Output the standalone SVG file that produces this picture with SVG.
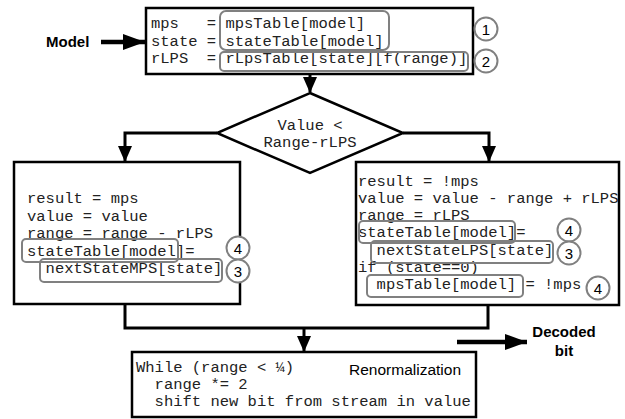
<svg xmlns="http://www.w3.org/2000/svg" width="625" height="419" viewBox="0 0 625 419">
<defs>
<marker id="ah" markerUnits="userSpaceOnUse" markerWidth="16" markerHeight="14" refX="15" refY="7" orient="auto">
<path d="M0,0 L16,7 L0,14 Z" fill="#000"/>
</marker>
<marker id="ahb" markerUnits="userSpaceOnUse" markerWidth="22" markerHeight="16" refX="22" refY="8" orient="auto">
<path d="M0,0 L22,8 L0,16 Z" fill="#000"/>
</marker>
</defs>
<style>
.box{fill:#fff;stroke:#000;stroke-width:2.5}
.rb{fill:none;stroke:#808080;stroke-width:2}
.cir{fill:#fff;stroke:#808080;stroke-width:2}
.code{font-family:"Liberation Mono","Courier New",monospace;font-size:15.5px;fill:#222;white-space:pre}
.num{font-family:"Liberation Sans",Arial,sans-serif;font-size:15px;fill:#000;text-anchor:middle}
.lbl{font-family:"Liberation Sans",Arial,sans-serif;font-size:15px;font-weight:bold;fill:#000}
.sans{font-family:"Liberation Sans",Arial,sans-serif;font-size:15.5px;fill:#000}
.con{fill:none;stroke:#000;stroke-width:3}
</style>
<g id="connectors">
<line class="con" x1="310" y1="75" x2="310" y2="92" marker-end="url(#ah)"/>
<polyline class="con" points="217,133 125,133 125,161" marker-end="url(#ah)"/>
<polyline class="con" points="403,133 489,133 489,161" marker-end="url(#ah)"/>
<polyline class="con" points="125,305 125,328 488,328 488,305"/>
<line class="con" x1="304" y1="328" x2="304" y2="351" marker-end="url(#ah)"/>
<line x1="101" y1="42" x2="145" y2="42" stroke="#000" stroke-width="4.5" marker-end="url(#ahb)"/>
<line x1="457" y1="342" x2="527" y2="342" stroke="#000" stroke-width="4.5" marker-end="url(#ahb)"/>
</g>
<g id="model-label"><text class="lbl" x="46" y="47">Model</text></g>
<g id="decoded-label"><text class="lbl" x="564" y="337" text-anchor="middle">Decoded</text><text class="lbl" x="564" y="356" text-anchor="middle">bit</text></g>
<g id="lookup">
<rect class="box" x="146" y="8" width="327" height="66"/>
<text class="code" x="151" y="28">mps   = mpsTable[model]</text>
<text class="code" x="151" y="45.5">state = stateTable[model]</text>
<text class="code" x="151" y="63">rLPS  = rLpsTable[state][f(range)]</text>
<rect class="rb" x="220" y="11" width="169" height="39" rx="6"/>
<rect class="rb" x="220" y="52" width="248" height="19" rx="4"/>
<circle class="cir" cx="486" cy="29" r="11.5"/><text class="num" x="486" y="34.5">1</text>
<circle class="cir" cx="486" cy="61" r="11.5"/><text class="num" x="486" y="66.5">2</text>
</g>
<g id="decision">
<polygon points="310,93 403,133 310,173 217,133" fill="#fff" stroke="#000" stroke-width="2.5"/>
<text class="code" x="310" y="130" text-anchor="middle">Value &lt;</text>
<text class="code" x="310" y="147" text-anchor="middle">Range-rLPS</text>
</g>
<g id="mps-path">
<rect class="box" x="14" y="162" width="226" height="142"/>
<text class="code" x="27" y="203">result = mps</text>
<text class="code" x="27" y="220.5">value = value</text>
<text class="code" x="27" y="238">range = range - rLPS</text>
<text class="code" x="27" y="255.5">stateTable[model]=</text>
<text class="code" x="27" y="273">  nextStateMPS[state]</text>
<rect class="rb" x="22" y="239" width="156" height="23" rx="4"/>
<rect class="rb" x="40" y="259" width="182" height="23" rx="4"/>
<circle class="cir" cx="238" cy="248" r="11.5"/><text class="num" x="238" y="253.5">4</text>
<circle class="cir" cx="238" cy="271" r="11.5"/><text class="num" x="238" y="276.5">3</text>
</g>
<g id="lps-path">
<rect class="box" x="356" y="162" width="263" height="143"/>
<text class="code" x="358" y="186">result = !mps</text>
<text class="code" x="358" y="203">value = value - range + rLPS</text>
<text class="code" x="358" y="220">range = rLPS</text>
<text class="code" x="358" y="237">stateTable[model]=</text>
<text class="code" x="358" y="254.5">  nextStateLPS[state]</text>
<text class="code" x="358" y="272">if (state==0)</text>
<text class="code" x="358" y="289">  mpsTable[model] = !mps</text>
<rect class="rb" x="359" y="221" width="156" height="22" rx="4"/>
<rect class="rb" x="371" y="241" width="182" height="22" rx="4"/>
<rect class="rb" x="367" y="275" width="156" height="22" rx="4"/>
<circle class="cir" cx="569" cy="230" r="11.5"/><text class="num" x="569" y="235.5">4</text>
<circle class="cir" cx="569" cy="253" r="11.5"/><text class="num" x="569" y="258.5">3</text>
<circle class="cir" cx="598" cy="288" r="11.5"/><text class="num" x="598" y="293.5">4</text>
</g>
<g id="renormalization">
<rect class="box" x="132" y="352" width="344" height="65"/>
<text class="code" x="136" y="372">While (range &lt; ¼)</text>
<text class="code" x="136" y="389">  range *= 2</text>
<text class="code" x="136" y="406">  shift new bit from stream in value</text>
<text class="sans" x="349" y="375">Renormalization</text>
</g>
</svg>
